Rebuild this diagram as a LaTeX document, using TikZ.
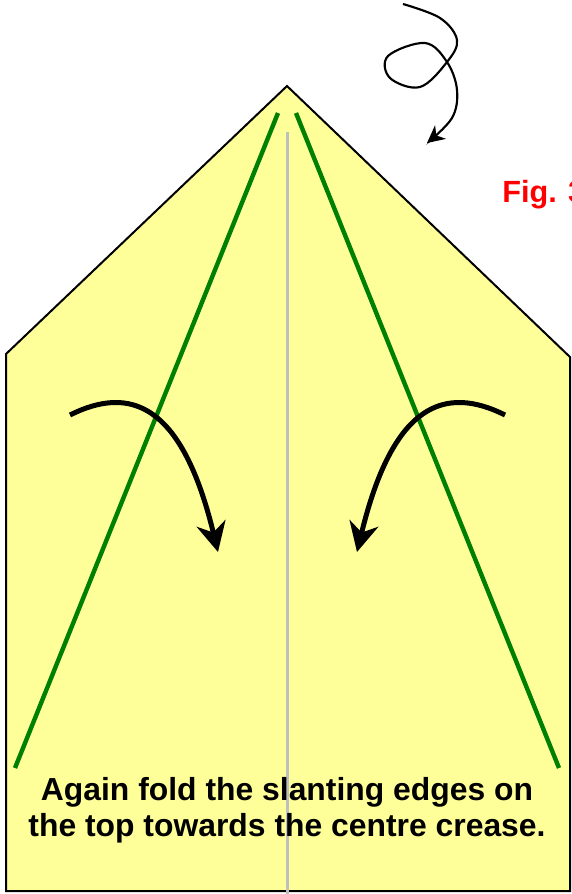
\documentclass[tikz,border=0pt]{standalone}
\usepackage{fontspec}
\setmainfont{Liberation Sans}
\usetikzlibrary{arrows.meta}
\definecolor{paper}{RGB}{255,255,153}
\definecolor{crease}{RGB}{0,128,0}
\definecolor{centreline}{RGB}{192,192,192}

\begin{document}
\begin{tikzpicture}[x=0.75pt, y=-0.75pt,
  foldarrow/.style={line width=3.75pt, -{Stealth[length=22pt, width=22pt, inset=7pt]}},
  caption/.style={font=\bfseries\fontsize{23.9}{27}\selectfont, align=center, inner sep=0pt}]
\useasboundingbox (0, 0) rectangle (572, 894);
\filldraw[fill=paper, draw=black, line width=1.5pt] (287, 86) -- (570, 357) -- (570, 891) -- (6, 891) -- (6, 354) -- cycle;
\draw[crease, line width=3.3pt] (278, 113) -- (15, 768)
(296, 113) -- (559, 768);
\draw[centreline, line width=2.25pt] (287, 132) -- (287, 894);
\draw[foldarrow] (70, 415) .. controls (130, 385) and (182, 403) .. (218, 552);
\draw[foldarrow] (505, 415) .. controls (445, 385) and (393, 403) .. (357, 552);
\draw[line width=1.6pt, -{Stealth[length=13pt, width=13pt, inset=4pt]}] plot[smooth, tension=0.6] coordinates {(403, 4) (440, 18) (457, 40) (447, 62) (420, 87) (390, 78) (388, 56) (425, 43) (447, 62) (457, 90) (452, 118) (427, 143)};
\node[caption, text=red, font=\bfseries\fontsize{23}{27}\selectfont, anchor=base west] (fignum) at (502, 202) {Fig. 3};
\node[caption] (steptext) at (287, 810) {Again fold the slanting edges on\\the top towards the centre crease.};
\end{tikzpicture}
\end{document}
